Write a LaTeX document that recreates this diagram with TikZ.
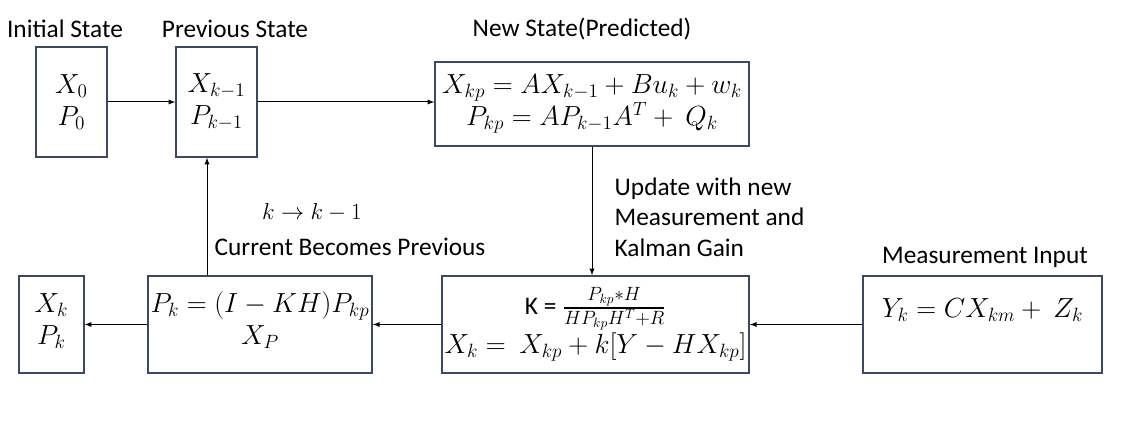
\documentclass[tikz,border=0pt]{standalone}
\usepackage{amsmath}
\usepackage[no-math]{fontspec}
\setmainfont{Carlito}
\usetikzlibrary{shapes,arrows,positioning}
\definecolor{boxslate}{RGB}{56,74,102}

\begin{document}
\begin{tikzpicture}[x=0.75pt, y=-0.75pt,
    every node/.style={font=\fontsize{19}{23}\selectfont},
    statebox/.style={draw=boxslate, line width=1.1pt, rectangle, align=center, inner sep=2pt, font=\fontsize{19.8}{24}\selectfont},
    flow/.style={-latex, line width=0.75pt}]
    \useasboundingbox (0,0) rectangle (1122,423);

    % state boxes
    \node[statebox, minimum width=53.25pt, minimum height=82.5pt] (init) at (71.5,102) {$X_0$\\$P_0$};
    \node[statebox, minimum width=60.75pt, minimum height=82.5pt] (prev) at (216.5,102) {$X_{k-1}$\\$P_{k-1}$};
    \node[statebox, minimum width=235.5pt, minimum height=63pt] (pred) at (592,104) {$X_{kp} = AX_{k-1} + Bu_k + w_k$\\$P_{kp} = AP_{k-1}A^T +\ Q_k$};
    \node[statebox, minimum width=230.25pt, minimum height=72.75pt] (gain) at (595.5,324.5) {{\fontsize{19}{23}\selectfont K =} $\frac{P_{kp}*H}{HP_{kp}H^T+R}$\\[1pt]$X_k =\ X_{kp} + k[Y - HX_{kp}]$};
    \node[statebox, minimum width=179.25pt, minimum height=72.75pt, text depth=25pt] (meas) at (982.5,324.5) {$Y_k = CX_{km} +\ Z_k$};
    \node[statebox, minimum width=168pt, minimum height=72.75pt, text depth=10pt] (upd) at (260,324.5) {$P_k = (I-KH)P_{kp}$\\$X_P$};
    \node[statebox, minimum width=48.75pt, minimum height=72.75pt, text depth=8pt] (est) at (51.5,324.5) {$X_k$\\$P_k$};

    % captions
    \node (initcap) at (65,29) {Initial State};
    \node (prevcap) at (235,29) {Previous State};
    \node (predcap) at (582,29) {New State(Predicted)};
    \node (meascap) at (985,257) {Measurement Input};
    \node[right, align=left] (updnote) at (610,217) {Update with new\\Measurement and\\Kalman Gain};
    \node (shift) at (312,212) {$k \rightarrow k-1$};
    \node (becomes) at (350,247) {Current Becomes Previous};

    \draw[flow] (init) -- (prev);
    \draw[flow] (prev.east) -- (prev.east -| pred.west);
    \draw[flow] (pred.south) -- (pred.south |- gain.north);
    \draw[flow] (meas) -- (gain);
    \draw[flow] (gain) -- (upd);
    \draw[flow] (upd) -- (est);
    \draw[flow] ([xshift=-39.75pt]upd.north) -- ([xshift=-39.75pt]upd.north |- prev.south);
\end{tikzpicture}
\end{document}
